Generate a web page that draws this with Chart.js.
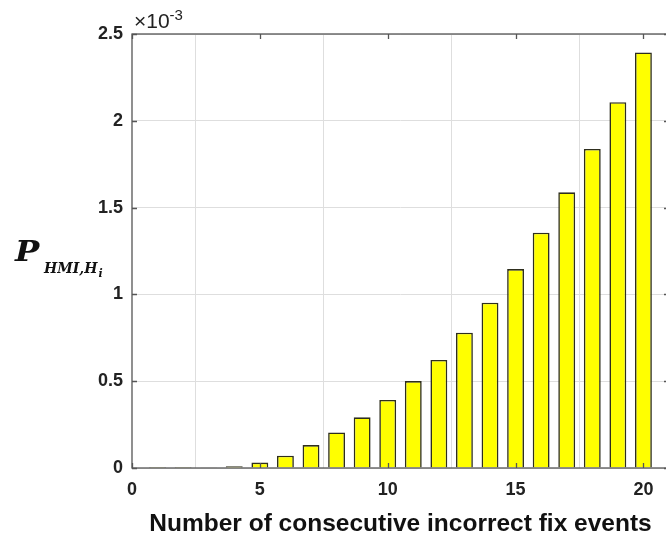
<!DOCTYPE html>
<html>
<head>
<meta charset="utf-8">
<script src="https://cdn.jsdelivr.net/npm/chart.js@4/dist/chart.umd.min.js"></script>
<style>
html,body{margin:0;padding:0;background:#fff;overflow:hidden;}
#wrap{width:672px;height:542px;}
</style>
</head>
<body>
<div id="wrap"><canvas id="c" width="672" height="542"></canvas></div>
<script>
const events = [1,2,3,4,5,6,7,8,9,10,11,12,13,14,15,16,17,18,19,20];
const probE3 = [0.0002,0.0006,0.002,0.010,0.031,0.071,0.132,0.205,0.292,0.392,0.501,0.622,0.779,0.952,1.146,1.355,1.588,1.838,2.107,2.394];
const xTicks = [0,5,10,15,20];
const yTicks = [0,0.5,1,1.5,2,2.5];

const points = events.map((e,i)=>({x:e, y:probE3[i]}));
const axisColor = '#555';
const tickFont = {family:'"Liberation Sans", Arial, sans-serif', size:18, weight:'bold'};

const framePlugin = {
  id:'frame',
  afterDatasetsDraw(chart){
    const {ctx, chartArea:a, scales:{x,y}} = chart;
    ctx.save();
    ctx.strokeStyle = axisColor;
    ctx.lineWidth = 1.3;
    ctx.strokeRect(a.left, a.top, a.right-a.left, a.bottom-a.top);
    ctx.beginPath();
    xTicks.forEach(v=>{
      const px = Math.round(x.getPixelForValue(v))+0.5;
      ctx.moveTo(px,a.bottom); ctx.lineTo(px,a.bottom-5);
      ctx.moveTo(px,a.top); ctx.lineTo(px,a.top+5);
    });
    yTicks.forEach(v=>{
      const py = Math.round(y.getPixelForValue(v))+0.5;
      ctx.moveTo(a.left,py); ctx.lineTo(a.left+5,py);
      ctx.moveTo(a.right,py); ctx.lineTo(a.right-5,py);
    });
    ctx.stroke();
    // exponent label
    ctx.fillStyle = '#222';
    ctx.textBaseline = 'alphabetic';
    ctx.font = '21px "Liberation Sans", Arial, sans-serif';
    ctx.fillText('\u00d710', a.left+2, 28);
    const w = ctx.measureText('\u00d710').width;
    ctx.font = '15px "Liberation Sans", Arial, sans-serif';
    ctx.fillText('-3', a.left+2+w, 20);
    // y title P_{HMI,H_i}
    ctx.fillStyle = '#111';
    ctx.save();
    ctx.translate(15, 261);
    ctx.scale(1.2, 1);
    ctx.font = 'italic bold 27px "DejaVu Serif", serif';
    ctx.fillText('P', 0, 0);
    ctx.restore();
    ctx.font = 'italic bold 14px "DejaVu Serif", serif';
    ctx.fillText('HMI,H', 44, 273);
    const sw = ctx.measureText('HMI,H').width;
    ctx.font = 'italic bold 11px "DejaVu Serif", serif';
    ctx.fillText('i', 44+sw+1, 277);
    ctx.restore();
  }
};

new Chart(document.getElementById('c'), {
  type:'bar',
  data:{datasets:[{
    data:points,
    backgroundColor:'#ffff00',
    borderColor:'#2e2e1e',
    borderWidth:1.6,
    barPercentage:0.66,
    categoryPercentage:1
  }]},
  options:{
    responsive:false,
    animation:false,
    layout:{padding:{top:34,right:3,left:0,bottom:0}},
    plugins:{legend:{display:false},tooltip:{enabled:false}},
    scales:{
      x:{
        type:'linear', min:0, max:21, offset:false,
        afterBuildTicks(s){ s.ticks = xTicks.map(v=>({value:v})); },
        afterFit(s){ s.height = 74; },
        grid:{color:'#dedede', drawTicks:false},
        border:{display:false},
        ticks:{font:tickFont, color:'#222', padding:11, maxRotation:0},
        title:{display:true, text:'Number of consecutive incorrect fix events',
          font:{family:'"Liberation Sans", Arial, sans-serif', size:24.5, weight:'bold'}, color:'#111', padding:{top:4,bottom:3}}
      },
      y:{
        type:'linear', min:0, max:2.5,
        afterBuildTicks(s){ s.ticks = yTicks.map(v=>({value:v})); },
        afterFit(s){ s.width = 132; },
        grid:{color:'#dedede', drawTicks:false},
        border:{display:false},
        ticks:{font:tickFont, color:'#222', padding:9,
          callback:v=>String(v)}
      }
    }
  },
  plugins:[framePlugin]
});
</script>
</body>
</html>
